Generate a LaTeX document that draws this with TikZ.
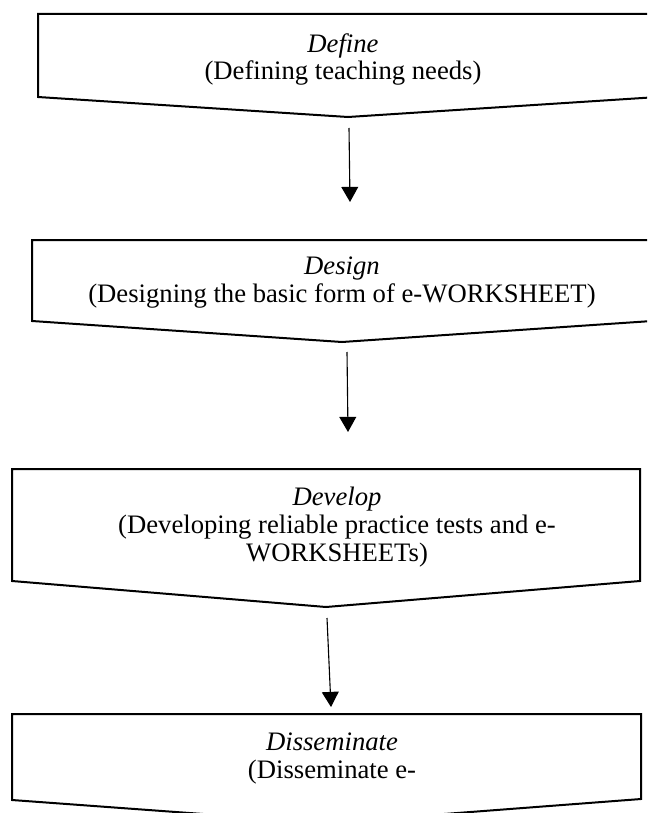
\documentclass[tikz,border=0pt]{standalone}
\usepackage{fontspec}
\setmainfont{Liberation Serif}
\usetikzlibrary{arrows.meta}
\begin{document}
\begin{tikzpicture}[x=0.45pt,y=-0.45pt,
% common options for the pentagon boxes:
stage/.style = {draw, line width=0.9pt, fill=white},
% common options for the texts (base = last line):
txt/.style = {align=center, anchor=base, inner sep=0,
            font=\fontsize{12}{12.4}\selectfont},
% common options for the arrows:
flow/.style = {-{Triangle[width=7.6pt,length=6.8pt]}, line width=0.5pt}]
\useasboundingbox (0,0) rectangle (647,813);
\clip (0,0) rectangle (647,813);
\draw[stage] (38,14) -- (658,14) -- (658,97) -- (348,117) -- (38,97) -- cycle;
\draw[stage] (32,240) -- (652,240) -- (652,321) -- (342,342) -- (32,321) -- cycle;
\draw[stage] (12,469) -- (640,469) -- (640,581) -- (326,607) -- (12,581) -- cycle;
\draw[stage] (12,714) -- (641,714) -- (641,799) -- (326,823) -- (12,800) -- cycle;
\node[txt] (T1) at (343,80) {\textit{Define}\\(Defining teaching needs)};
\node[txt] (T2) at (342,302) {\textit{Design}\\(Designing the basic form of e-WORKSHEET)};
\node[txt] (T3) at (337,561) {\textit{Develop}\\(Developing reliable practice tests and e-\\WORKSHEETs)};
\node[txt] (T4) at (332,778) {\textit{Disseminate}\\(Disseminate e-};
\coordinate (U1) at (349,128);
\coordinate (V1) at (350,202);
\coordinate (U2) at (347,352);
\coordinate (V2) at (348,432);
\coordinate (U3) at (327,618);
\coordinate (V3) at (331,707);
\draw[flow] (U1) -- (V1);
\draw[flow] (U2) -- (V2);
\draw[flow] (U3) -- (V3);
\end{tikzpicture}
\end{document}
